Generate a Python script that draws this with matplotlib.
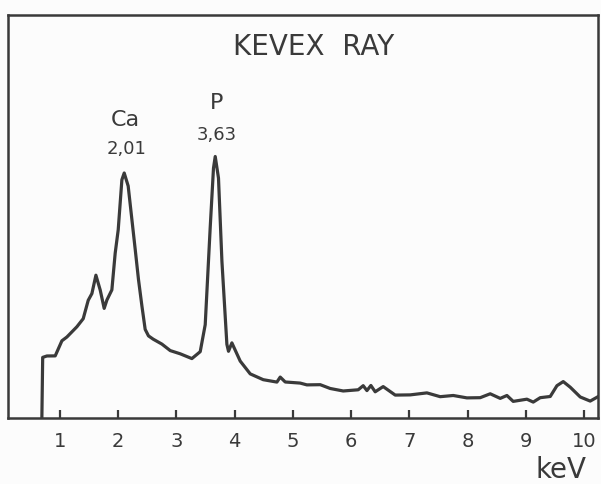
import numpy as np
import matplotlib
matplotlib.use('Agg')
import matplotlib.pyplot as plt
from matplotlib import font_manager

# spectrum (energy in keV, counts in arbitrary units)
energy = [0.690, 0.704, 0.776, 0.919, 1.034, 1.120, 1.291, 1.400, 1.486, 1.549,
          1.618, 1.692, 1.760, 1.807, 1.892, 1.949, 2.001, 2.064, 2.104, 2.172,
          2.236, 2.293, 2.349, 2.408, 2.464, 2.521, 2.602, 2.751, 2.894, 3.065,
          3.266, 3.409, 3.495, 3.580, 3.637, 3.667, 3.723, 3.782, 3.867, 3.895,
          3.953, 4.096, 4.268, 4.491, 4.726, 4.783, 4.869, 5.126, 5.241, 5.470,
          5.641, 5.865, 6.122, 6.208, 6.272, 6.340, 6.414, 6.551, 6.758, 7.015,
          7.302, 7.530, 7.754, 7.989, 8.217, 8.389, 8.561, 8.676, 8.784, 9.019,
          9.128, 9.248, 9.420, 9.535, 9.643, 9.763, 9.935, 10.106, 10.24]
counts = [0.0, 60.6, 62.0, 62.1, 77.2, 81.0, 91.2, 99.3, 117.7, 124.4,
          142.8, 127.9, 109.6, 118.0, 128.1, 164.8, 188.2, 238.2, 245.0, 232.0,
          198.4, 168.5, 138.5, 112.0, 88.6, 82.1, 78.8, 73.9, 67.4, 64.2,
          59.4, 66.3, 93.3, 189.7, 249.8, 261.5, 239.9, 156.6, 73.7, 66.7,
          75.1, 56.9, 44.1, 38.3, 35.9, 40.9, 36.0, 34.9, 33.1, 33.3,
          29.5, 27.0, 28.2, 32.3, 27.4, 32.5, 26.2, 31.4, 22.9, 23.1,
          25.1, 21.3, 22.5, 20.1, 20.3, 24.2, 19.6, 22.5, 16.6, 18.8,
          15.9, 20.3, 21.5, 32.3, 36.4, 30.8, 21.0, 16.9, 21.3]

ticks = [1, 2, 3, 4, 5, 6, 7, 8, 9, 10]
tick_labels = ['1', '2', '3', '4', '5', '6', '7', '8', '9', '10']

title = 'KEVEX  RAY'
peak_names = ['Ca', 'P']
peak_values = ['2,01', '3,63']

avail = {f.name for f in font_manager.fontManager.ttflist}
FONT = 'Liberation Sans Narrow' if 'Liberation Sans Narrow' in avail else 'DejaVu Sans'
plt.rcParams['font.family'] = [FONT, 'DejaVu Sans']

INK = '#3a3a3a'

fig = plt.figure(figsize=(6.01, 4.84), dpi=100, facecolor='#fcfcfc')
ax = fig.add_axes([0.0125, 0.1364, 0.9825, 0.8326])
ax.set_facecolor('#fcfcfc')

ax.plot(energy, counts, color=INK, linewidth=2.3, solid_joinstyle='round')

ax.set_xlim(0.10, 10.24)
ax.set_ylim(0, 403)
ax.set_xticks(ticks)
ax.set_xticklabels(tick_labels)
ax.set_yticks([])
ax.tick_params(axis='x', direction='in', length=6, width=1.6, color=INK,
               labelcolor=INK, labelsize=14, pad=10)
for s in ax.spines.values():
    s.set_color(INK)
    s.set_linewidth(1.8)

ax.text(0.519, 0.921, title, transform=ax.transAxes, ha='center', va='center',
        fontsize=20, color=INK)

ax.text(2.12, 298, peak_names[0], ha='center', va='center', fontsize=16, color=INK)
ax.text(2.15, 269, peak_values[0], ha='center', va='center', fontsize=13, color=INK)
ax.text(3.69, 315, peak_names[1], ha='center', va='center', fontsize=16, color=INK)
ax.text(3.70, 283, peak_values[1], ha='center', va='center', fontsize=13, color=INK)

fig.text(561 / 601, 1 - 470 / 484, 'keV', ha='center', va='center', fontsize=20, color=INK)

fig.savefig('out.png', dpi=100, facecolor=fig.get_facecolor())
